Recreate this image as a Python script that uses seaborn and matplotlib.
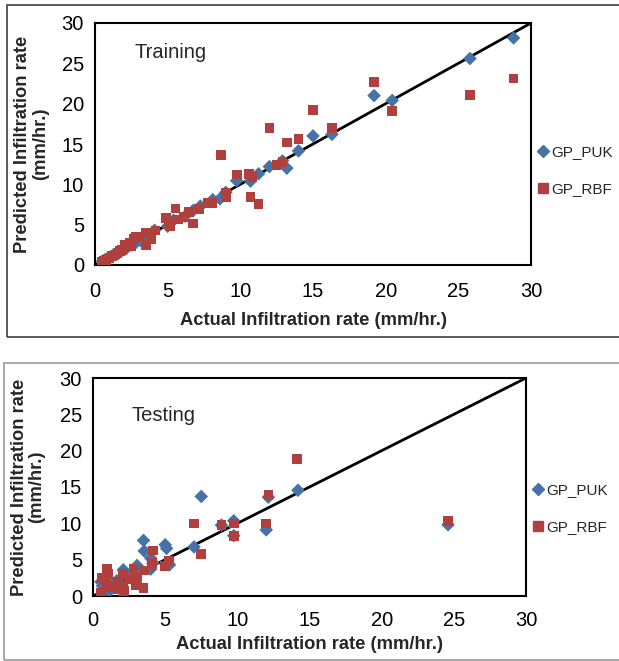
import matplotlib
matplotlib.use("Agg")
import matplotlib.pyplot as plt
import seaborn as sns
import pandas as pd
from matplotlib.patches import Rectangle
from matplotlib.lines import Line2D

# ---------------- data ----------------
series_names = ["GP_PUK", "GP_RBF"]

train_puk_x = [28.8, 25.8, 19.2, 20.45, 15.0, 16.3, 14.0, 13.2, 12.9, 12.0, 11.25, 10.7, 9.75,
               9.0, 8.6, 8.1, 7.25, 6.75, 6.2, 5.4, 5.0, 4.1, 3.6,
               0.5, 0.7, 0.9, 1.1, 1.3, 1.6, 1.9, 2.2, 2.5, 2.8, 3.1, 3.3, 3.7]
train_puk_y = [28.15, 25.6, 21.0, 20.4, 16.0, 16.2, 14.15, 12.0, 12.9, 12.2, 11.3, 10.4, 10.45,
               9.0, 8.2, 8.1, 7.3, 6.75, 6.05, 5.55, 4.8, 4.3, 3.5,
               0.45, 0.65, 0.85, 1.05, 1.3, 1.55, 1.85, 2.15, 2.5, 2.75, 3.05, 3.25, 3.8]

train_rbf_x = [28.8, 25.8, 19.2, 20.45, 15.0, 16.3, 12.0, 13.2, 14.0, 8.65, 9.75, 10.6, 10.85,
               10.7, 11.25, 12.5, 12.9, 9.0, 9.05, 7.75, 8.05, 7.15, 6.75, 6.45, 6.1, 5.55,
               5.7, 5.1, 4.9, 5.2, 4.15, 3.9, 3.5, 3.5, 3.05, 2.65, 2.4, 2.1, 1.85, 1.55,
               1.3, 1.0, 0.75, 0.5, 2.8, 2.5, 2.05, 1.7, 1.4, 1.15, 0.9, 0.6, 0.45]
train_rbf_y = [23.1, 21.1, 22.7, 19.1, 19.2, 17.0, 17.0, 15.2, 15.6, 13.6, 11.2, 11.3, 10.9,
               8.45, 7.6, 12.4, 12.75, 8.95, 8.45, 7.7, 7.7, 6.95, 5.15, 6.6, 5.95, 7.0,
               5.65, 5.3, 5.85, 4.8, 4.3, 3.2, 4.0, 2.45, 3.4, 3.25, 2.75, 2.15, 1.85, 1.5,
               1.2, 0.9, 0.6, 0.4, 3.5, 2.35, 2.55, 1.7, 1.3, 1.1, 0.8, 0.55, 0.3]

test_puk_x = [24.6, 14.2, 12.15, 12.0, 9.75, 9.75, 8.9, 7.5, 7.0, 5.0, 5.1, 5.3, 3.5, 3.55,
              4.0, 4.0, 3.05, 2.6, 2.1, 1.65, 0.55, 0.65, 1.1, 2.0, 2.95, 1.7, 4.15]
test_puk_y = [9.8, 14.55, 13.6, 9.1, 10.35, 8.3, 9.75, 13.7, 6.75, 7.05, 6.55, 4.3, 7.65, 6.2,
              5.2, 3.7, 4.2, 2.8, 3.6, 2.1, 1.95, 1.4, 0.65, 1.4, 1.9, 1.65, 4.55]

test_rbf_x = [24.6, 14.15, 12.15, 12.0, 9.75, 9.75, 8.9, 7.0, 7.5, 5.0, 5.25, 4.15, 4.1, 4.05,
              3.55, 3.5, 2.8, 3.05, 3.0, 2.5, 2.1, 2.1, 2.15, 1.7, 1.7, 0.95, 1.05, 0.9,
              0.6, 0.55, 0.95, 1.45]
test_rbf_y = [10.35, 18.85, 13.9, 10.0, 10.0, 8.25, 9.8, 10.0, 5.8, 4.1, 4.85, 6.25, 4.55, 4.2,
              3.5, 1.1, 3.8, 2.7, 1.5, 2.35, 3.0, 1.2, 0.65, 1.9, 0.9, 3.7, 3.0, 2.35,
              2.5, 0.4, 1.2, 1.35]

axis_ticks = [0, 5, 10, 15, 20, 25, 30]
line_range = [0, 30]
panel_titles = ["Training", "Testing"]
x_label = "Actual Infiltration rate (mm/hr.)"
y_label = "Predicted Infiltration rate\n(mm/hr.)"

colors = {"GP_PUK": "#4572A7", "GP_RBF": "#B0403D"}
markers = {"GP_PUK": "D", "GP_RBF": "s"}


def make_df(px, py, rx, ry):
    return pd.DataFrame({
        "x": px + rx,
        "y": py + ry,
        "series": [series_names[0]] * len(px) + [series_names[1]] * len(rx),
    })


train_df = make_df(train_puk_x, train_puk_y, train_rbf_x, train_rbf_y)
test_df = make_df(test_puk_x, test_puk_y, test_rbf_x, test_rbf_y)

# ---------------- figure ----------------
sns.set_style("white")
plt.rcParams["font.family"] = ["Liberation Sans", "DejaVu Sans"]

W, H = 619, 661
fig = plt.figure(figsize=(W / 100, H / 100), dpi=100)


def fx(px):
    return px / W


def fy(py):
    return 1 - py / H


# panel frames
fig.patches.append(Rectangle((fx(7), fy(337)), fx(640 - 7), fy(5) - fy(337),
                             transform=fig.transFigure, fill=False,
                             edgecolor="#404040", linewidth=1.2))
fig.patches.append(Rectangle((fx(4), fy(660)), fx(640 - 4), fy(363) - fy(660),
                             transform=fig.transFigure, fill=False,
                             edgecolor="#9a9a9a", linewidth=1.2))

ax1 = fig.add_axes([fx(95), fy(265), fx(531) - fx(95), fy(23) - fy(265)])
ax2 = fig.add_axes([fx(93), fy(596), fx(526) - fx(93), fy(378) - fy(596)])

settings = [
    (ax1, train_df, panel_titles[0], 0.39, 26.4, 7.5, 8, 9),
    (ax2, test_df, panel_titles[1], 0.40, 24.8, 6.0, 4, 10),
]

for ax, df, title, legend_y, title_y, xpad, xlabpad, ylabpad in settings:
    sns.scatterplot(data=df, x="x", y="y", hue="series", style="series",
                    palette=colors, markers=markers, s=48, linewidth=0,
                    alpha=1, ax=ax, legend=False, zorder=3)
    ax.plot(line_range, line_range, color="black", linewidth=2, zorder=2)
    ax.set_xlim(0, 30)
    ax.set_ylim(0, 30)
    ax.set_xticks(axis_ticks)
    ax.set_yticks(axis_ticks)
    ax.tick_params(axis="both", direction="out", length=5, width=1.3,
                   labelsize=14.5, colors="black", pad=3)
    ax.tick_params(axis="x", pad=xpad)
    for sp in ax.spines.values():
        sp.set_linewidth(1.5)
        sp.set_color("black")
    ax.set_xlabel(x_label, fontsize=13.2, fontweight="bold", labelpad=xlabpad)
    ax.set_ylabel(y_label, fontsize=13.2, fontweight="bold", labelpad=ylabpad,
                  linespacing=1.05)
    ax.text(2.7, title_y, title, fontsize=14.5, ha="left", va="center")
    handles = [Line2D([], [], linestyle="none", marker=markers[n], color=colors[n],
                      markersize=6 if n == "GP_PUK" else 6.5) for n in series_names]
    ax.legend(handles, series_names, loc="center left",
              bbox_to_anchor=(1.0, legend_y), frameon=False, fontsize=11,
              handletextpad=0.2, labelspacing=1.5, handlelength=0.6,
              borderaxespad=0.1)

fig.savefig("out.png", dpi=100)
